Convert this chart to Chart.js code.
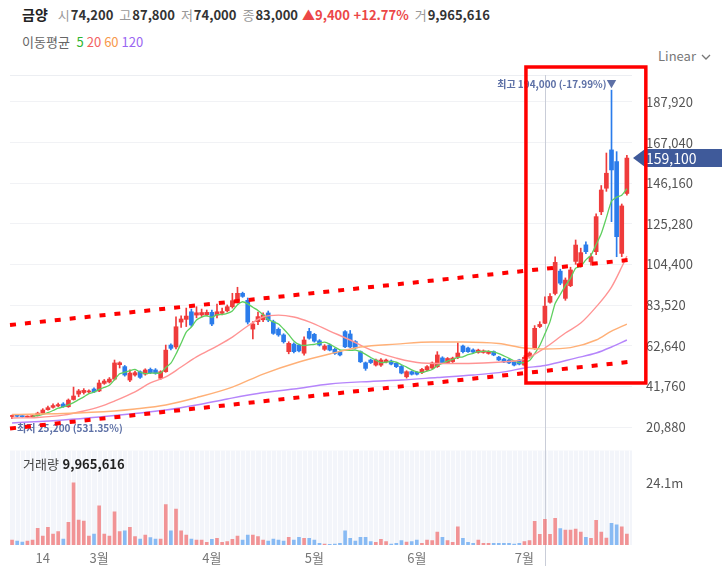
<!DOCTYPE html>
<html lang="ko">
<head>
<meta charset="utf-8">
<title>금양 일봉</title>
<script src="https://cdn.jsdelivr.net/npm/chart.js@4.4.1/dist/chart.umd.min.js"></script>
<style>
  html, body { margin: 0; padding: 0; background: #fff; }
  body { width: 722px; height: 566px; position: relative; overflow: hidden;
         font-family: 'Noto Sans CJK KR', 'Noto Sans', sans-serif; }
  canvas { position: absolute; left: 0; }
  #priceChart { top: 62px; }
  #volumeChart { top: 444px; }
  .quote { position: absolute; left: 22px; top: 5px; font-size: 13px; line-height: 18px; white-space: nowrap; color: #333; }
  .quote .name { font-weight: bold; font-size: 14px; color: #222; margin-right: 10px; }
  .quote .k { color: #999; margin-right: 1px; }
  .quote .v { font-weight: bold; margin-right: 6px; }
  .quote .up { color: #ec4747; font-weight: bold; margin-left: -2px; margin-right: 6px; }
  .ma { position: absolute; left: 22px; top: 33px; font-size: 13px; line-height: 18px; color: #666; white-space: nowrap; }
  .ma span { margin-left: 3px; }
  .scale { position: absolute; left: 658px; top: 47px; font-size: 13px; line-height: 18px; color: #777; }
  .scale svg { margin-left: 5px; vertical-align: middle; }
  .vol { position: absolute; left: 23px; top: 455px; font-size: 13px; line-height: 18px; color: #444; white-space: nowrap; }
  .vol b { color: #222; }
</style>
</head>
<body>
<div class="quote"><span class="name">금양</span><span class="k">시</span><span class="v">74,200</span><span class="k">고</span><span class="v">87,800</span><span class="k">저</span><span class="v">74,000</span><span class="k">종</span><span class="v">83,000</span><span class="up">▲9,400 +12.77%</span><span class="k">거</span><span class="v">9,965,616</span></div>
<div class="ma">이동평균 <span style="color:#2fb52f">5</span><span style="color:#f36262">20</span><span style="color:#f7984a">60</span><span style="color:#9a66f2">120</span></div>
<div class="scale">Linear<svg width="10" height="7" viewBox="0 0 10 7"><polyline points="1,1 5,5 9,1" fill="none" stroke="#777" stroke-width="1.3"/></svg></div>
<canvas id="priceChart" width="722" height="393"></canvas>
<canvas id="volumeChart" width="722" height="122"></canvas>
<div class="vol">거래량 <b>9,965,616</b></div>

<script>
// 거래일 (2023년 2월 6일 ~ 7월 31일)
const tradingDays = {
    2: [6,7,8,9,10,13,14,15,16,17,20,21,22,23,24,27,28],
    3: [2,3,6,7,8,9,10,13,14,15,16,17,20,21,22,23,24,27,28,29,30,31],
    4: [3,4,5,6,7,10,11,12,13,14,17,18,19,20,21,24,25,26,27,28],
    5: [2,3,4,8,9,10,11,12,15,16,17,18,19,22,23,24,25,26,30,31],
    6: [1,2,5,7,8,9,12,13,14,15,16,19,20,21,22,23,26,27,28,29,30],
    7: [3,4,5,6,7,10,11,12,13,14,17,18,19,20,21,24,25,26,27,28,31]
};

// x축 표시 날짜
const tickDates = ['2-14', '3-2', '4-3', '5-2', '6-1', '7-3'];
const tickLabels = ['14', '3월', '4월', '5월', '6월', '7월'];
const hoverDate = '7-7';

// 가격 축 눈금
const priceTicks = [20880, 41760, 62640, 83520, 104400, 125280, 146160, 167040, 187920];
const volumeTicks = [24100000];

// 시가 / 고가 / 저가 / 종가
const opens = [
    26300,26700,26400,26000,26200,26800,28000,29800,31000,31700,
    32700,31300,35000,37800,38600,38900,40400,39400,43300,44000,
    45500,52900,51900,45000,47600,49300,48100,50500,50200,45900,
    49300,63000,62000,74800,76200,80100,78400,78500,78600,79800,
    78400,79300,80600,82700,85800,89600,86000,71200,75000,76000,
    79500,75000,71100,68200,59600,63500,63000,58800,70000,68500,
    65200,60800,63000,60800,59600,69900,68700,64800,59600,53900,
    55300,52700,52700,54300,54800,53600,52000,46700,49300,49000,
    48800,50200,51200,51900,56400,54000,54500,56700,62500,61500,
    60500,59200,59200,58700,59600,56800,55800,55300,54400,55300,
    52700,57000,61300,72500,74200,85000,89500,101000,87000,93500,
    106000,105000,114500,105800,111000,131500,143600,163300,157300,110100,
    140900
];
const highs = [
    27000,27000,26700,26600,26900,28500,30300,31600,32800,33200,
    33400,35300,41400,40200,40600,40000,41000,45000,45300,46300,
    55300,54400,52500,50200,49600,49800,50800,51200,50900,49800,
    63000,63600,77500,78000,82000,81500,82700,81500,81000,81000,
    84000,82000,83600,89600,92700,90200,87200,75000,80000,79500,
    80500,75800,71800,68800,64700,64200,63500,67200,71600,69000,
    65800,63200,63500,61300,60000,70400,70500,65300,60000,54300,
    55800,55800,56000,55800,55300,54000,52500,49800,49700,49400,
    51000,52400,54300,59600,57000,56600,56800,64200,63000,62000,
    61000,60900,60500,60100,60000,57200,56200,55700,54800,55700,
    57500,59500,73000,75000,87800,89500,108400,102000,97500,103000,
    117000,112800,116000,110000,130500,145000,161700,194000,162400,135500,
    160500
];
const lows = [
    25200,26000,25900,25800,26000,26500,27800,29500,30600,31300,
    31000,31000,34700,36500,37800,38400,38500,39000,42800,43500,
    45000,51200,47000,44200,47000,45800,47500,48300,48000,45300,
    49000,60500,61000,72000,72500,72500,77000,77500,78000,73000,
    77000,78500,80000,82000,84500,87500,73800,66100,73500,75000,
    75000,68500,67500,64000,58500,59000,59500,57800,66000,64500,
    62500,60200,60000,58200,57400,61600,61500,61000,54000,50000,
    53500,52200,52000,53800,52800,51400,48200,46000,47600,47600,
    48300,49800,50800,51500,53500,53600,54000,56000,59000,59200,
    59000,58800,58800,58300,57500,55000,54000,53400,52300,52800,
    52200,56300,60800,71900,74000,84500,88800,94000,86000,93000,
    104500,103000,110000,104000,109500,130000,142000,126400,108400,108400,
    140000
];
const closes = [
    26600,26400,26200,26300,26500,28000,29600,30800,31900,32400,
    31300,34700,36800,39400,39700,39400,38900,43500,44500,45500,
    53800,53900,47600,48600,48800,46400,50200,48800,48500,49300,
    60400,61300,72400,76400,77900,73300,79600,79700,79800,73800,
    80100,80200,82700,85800,89600,88000,74800,73800,77600,78500,
    75900,69000,68200,64700,63900,59600,60000,65600,66500,65000,
    63000,62500,60400,58700,57900,62100,62000,61500,54400,51000,
    54000,55300,55300,55300,53200,51900,48600,49300,48000,48000,
    50500,51900,53800,57900,54000,56100,56300,58900,59600,59600,
    59400,60400,60000,59600,57900,55300,54300,53800,52700,53200,
    56700,58900,71600,73600,83000,88000,105500,94800,96400,101600,
    114400,110500,111000,108400,129000,142700,151300,153000,118700,134500,
    159100
];

// 거래량
const volumes = [
    1930000,1550000,1160000,1550000,1930000,6450000,3480000,6830000,4250000,5160000,
    2320000,8770000,24100000,9670000,9280000,3480000,4250000,15200000,4250000,3480000,
    12900000,5160000,5540000,6830000,3220000,2320000,3870000,2840000,2320000,2320000,
    15700000,5540000,13900000,5540000,3870000,2320000,1930000,1930000,1030000,2190000,
    2580000,1030000,1290000,2190000,3480000,1930000,3870000,3870000,3220000,1930000,
    1550000,2320000,1930000,1550000,2960000,1930000,2960000,2580000,2580000,1930000,
    640000,390000,260000,390000,640000,5540000,2580000,1550000,2960000,2960000,
    1290000,1030000,2190000,1290000,390000,640000,1680000,1160000,1290000,1930000,
    640000,1930000,1680000,5030000,2960000,1680000,1030000,7090000,2580000,1030000,
    640000,1930000,640000,640000,640000,640000,640000,640000,390000,640000,
    1290000,1680000,9150000,4120000,9965616,4120000,10300000,6320000,5800000,5800000,
    6190000,5030000,2960000,2580000,9540000,5030000,2710000,8380000,7860000,7090000,
    4250000
];

// 이동평균선 (그림에서 읽은 값: 거래일 순번, 가격)
const ma20Idx = [0,5,10,14,17,20,24,27,30,33,36,40,43,46,49,52,55,58,62,66,70,75,80,86,92,98,100,104,108,111,114,117,119,120];
const ma20Val = [25500,25800,27000,29100,31200,34200,38900,43500,46600,51700,56900,62500,67100,72800,77400,78400,77400,74900,70200,65600,60500,56300,53800,53500,53800,54800,55600,61500,69200,74300,82600,92800,103100,108800];
const ma60Idx = [0,10,20,24,30,36,43,49,56,62,68,75,82,88,95,100,104,109,114,117,120];
const ma60Val = [27300,27800,29100,30100,32200,36000,41400,48100,54300,58400,62000,63500,64600,64600,63800,61500,61000,61700,65600,70200,73800];
const ma120Idx = [0,10,17,24,30,36,42,48,55,62,70,76,83,90,96,100,104,110,114,117,120];
const ma120Val = [22900,24500,26000,27800,29600,32200,35300,38100,40400,43000,44300,45000,46300,47600,49200,51200,52500,56300,58900,62000,65600];

// 손으로 그린 표시 (추세선, 박스) - 거래일 순번 / 가격 좌표
const upperTrend = [{ x: -0.4, y: 73300 }, { x: 120.2, y: 106700 }];
const lowerTrend = [{ x: -0.4, y: 20100 }, { x: 120.6, y: 54400 }];
const markBox = [
    { x: 100.3, y: 205900 }, { x: 123.7, y: 205900 },
    { x: 123.7, y: 43500 }, { x: 100.3, y: 43500 }, { x: 100.3, y: 205900 }
];

const FONT = "'Noto Sans CJK KR', 'Noto Sans', sans-serif";
const UP = '#ef3b3b';
const DOWN = '#2b7ceb';

const dates = [];
Object.keys(tradingDays).forEach(m => tradingDays[m].forEach(d => dates.push(m + '-' + d)));
const tickIdx = tickDates.map(d => dates.indexOf(d));
const hoverIdx = dates.indexOf(hoverDate);
const idx = closes.map((c, i) => i);
const candleColors = idx.map(i => closes[i] >= opens[i] ? UP : DOWN);
const volumeColors = idx.map(i => closes[i] >= opens[i] ? 'rgba(240, 110, 110, 0.72)' : 'rgba(100, 165, 240, 0.75)');

function movingAverage(values, n) {
    return values.map((v, i) => {
        if (i < n - 1) return null;
        let sum = 0;
        for (let k = i - n + 1; k <= i; k++) sum += values[k];
        return sum / n;
    });
}
const ma5 = movingAverage(closes, 5);

function points(xs, ys) {
    return xs.map((x, k) => ({ x: x, y: ys[k] }));
}

const xRange = { min: -0.4, max: 121 };
// 라벨은 축 바깥쪽으로 14px 띄움 (ticks.padding 대신 투명 눈금선 길이 사용)
const axisGap = { drawTicks: true, tickLength: 14, tickColor: 'rgba(0,0,0,0)' };
let labelsDrawn = false;

const priceOverlay = {
    id: 'priceOverlay',
    beforeDraw(chart) {
        labelsDrawn = false;
    },
    beforeDatasetsDraw(chart) {
        const ctx = chart.ctx;
        const area = chart.chartArea;
        const xs = chart.scales.x;
        const ys = chart.scales.y;
        ctx.save();
        // 상단 경계선
        ctx.strokeStyle = '#eceef2';
        ctx.lineWidth = 1;
        ctx.beginPath();
        ctx.moveTo(area.left, Math.round(area.top) + 0.5);
        ctx.lineTo(area.right, Math.round(area.top) + 0.5);
        ctx.stroke();
        // 십자선
        const hx = Math.round(xs.getPixelForValue(hoverIdx)) + 0.5;
        ctx.strokeStyle = '#c9cdd8';
        ctx.beginPath();
        ctx.moveTo(hx, area.top);
        ctx.lineTo(hx, chart.height);
        ctx.stroke();
        // 현재가 태그
        const last = closes[closes.length - 1];
        const yc = ys.getPixelForValue(last);
        ctx.fillStyle = '#3f5a9a';
        ctx.beginPath();
        ctx.moveTo(area.right + 1, yc);
        ctx.lineTo(area.right + 13, yc - 9);
        ctx.lineTo(chart.width, yc - 9);
        ctx.lineTo(chart.width, yc + 9);
        ctx.lineTo(area.right + 13, yc + 9);
        ctx.closePath();
        ctx.fill();
        ctx.fillStyle = '#fff';
        ctx.font = '14px ' + FONT;
        ctx.textBaseline = 'middle';
        ctx.textAlign = 'left';
        ctx.fillText(last.toLocaleString('en-US'), area.right + 14, yc + 1);
        ctx.restore();
    },
    beforeDatasetDraw(chart, args) {
        if (labelsDrawn || !chart.data.datasets[args.index].marker) return;
        labelsDrawn = true;
        const ctx = chart.ctx;
        const xs = chart.scales.x;
        const ys = chart.scales.y;
        const last = closes[closes.length - 1];
        let hi = 0, lo = 0;
        highs.forEach((v, i) => { if (v > highs[hi]) hi = i; });
        lows.forEach((v, i) => { if (v < lows[lo]) lo = i; });
        ctx.save();
        ctx.fillStyle = '#5d70a6';
        ctx.font = 'bold 10px ' + FONT;
        ctx.textBaseline = 'middle';
        const hiPct = ((last - highs[hi]) / highs[hi] * 100).toFixed(2);
        ctx.textAlign = 'right';
        ctx.fillText('최고 ' + highs[hi].toLocaleString('en-US') + ' (' + hiPct + '%)▼',
            xs.getPixelForValue(hi) + 5, ys.getPixelForValue(highs[hi]) - 6);
        const loPct = ((last - lows[lo]) / lows[lo] * 100).toFixed(2);
        ctx.textAlign = 'left';
        ctx.fillText('최저 ' + lows[lo].toLocaleString('en-US') + ' (' + loPct + '%)',
            xs.getPixelForValue(lo) + 5, ys.getPixelForValue(lows[lo]) + 10);
        ctx.restore();
    }
};

new Chart(document.getElementById('priceChart'), {
    type: 'bar',
    data: {
        datasets: [
            {
                label: '120',
                type: 'line',
                data: points(ma120Idx, ma120Val),
                borderColor: '#b585fb',
                borderWidth: 1.4,
                pointRadius: 0,
                cubicInterpolationMode: 'monotone',
                order: 3
            },
            {
                label: '60',
                type: 'line',
                data: points(ma60Idx, ma60Val),
                borderColor: '#ffb077',
                borderWidth: 1.4,
                pointRadius: 0,
                cubicInterpolationMode: 'monotone',
                order: 3
            },
            {
                label: '20',
                type: 'line',
                data: points(ma20Idx, ma20Val),
                borderColor: '#ff9494',
                borderWidth: 1.4,
                pointRadius: 0,
                cubicInterpolationMode: 'monotone',
                order: 3
            },
            {
                label: '5',
                type: 'line',
                data: points(idx, ma5),
                borderColor: '#5fcf5f',
                borderWidth: 1.3,
                pointRadius: 0,
                tension: 0.2,
                order: 3
            },
            {
                label: 'wick',
                data: idx.map(i => ({ x: i, y: [lows[i], highs[i]] })),
                backgroundColor: candleColors,
                barThickness: 1,
                grouped: false,
                order: 5
            },
            {
                label: 'body',
                data: idx.map(i => ({ x: i, y: [opens[i], closes[i]] })),
                backgroundColor: candleColors,
                barThickness: 4,
                minBarLength: 1,
                grouped: false,
                order: 4
            },
            {
                label: 'upper',
                type: 'line',
                marker: true,
                data: upperTrend,
                borderColor: '#ff0000',
                borderWidth: 4,
                borderDash: [6, 9],
                pointRadius: 0,
                clip: false,
                order: 1
            },
            {
                label: 'lower',
                type: 'line',
                marker: true,
                data: lowerTrend,
                borderColor: '#ff0000',
                borderWidth: 4,
                borderDash: [6, 9],
                pointRadius: 0,
                clip: false,
                order: 1
            },
            {
                label: 'box',
                type: 'line',
                marker: true,
                data: markBox,
                borderColor: '#ff0000',
                borderWidth: 3.5,
                borderCapStyle: 'square',
                borderJoinStyle: 'miter',
                pointRadius: 0,
                tension: 0,
                clip: false,
                order: 0
            }
        ]
    },
    options: {
        responsive: false,
        animation: false,
        events: [],
        layout: { padding: { left: 10, top: 13, right: 0, bottom: 7 } },
        plugins: { legend: { display: false }, tooltip: { enabled: false } },
        scales: {
            x: {
                type: 'linear',
                min: xRange.min,
                max: xRange.max,
                offset: false,
                display: false
            },
            y: {
                type: 'linear',
                position: 'right',
                min: 10087,
                max: 201797,
                afterFit: axis => { axis.width = 90; },
                afterBuildTicks: axis => { axis.ticks = priceTicks.map(v => ({ value: v })); },
                grid: Object.assign({ color: '#f1f2f5' }, axisGap),
                border: { display: false },
                ticks: {
                    padding: 0,
                    color: '#555',
                    font: { family: FONT, size: 13, lineHeight: 1 },
                    callback: v => v.toLocaleString('en-US')
                }
            }
        }
    },
    plugins: [priceOverlay]
});

const volumeOverlay = {
    id: 'volumeOverlay',
    beforeDatasetsDraw(chart) {
        const ctx = chart.ctx;
        const area = chart.chartArea;
        const xs = chart.scales.x;
        ctx.save();
        ctx.fillStyle = '#f3f5fa';
        ctx.fillRect(area.left, area.top, area.right - area.left, area.bottom - area.top);
        ctx.strokeStyle = 'rgba(255, 255, 255, 0.8)';
        ctx.lineWidth = 1;
        idx.forEach(i => {
            const px = Math.round(xs.getPixelForValue(i + 0.5)) + 0.5;
            ctx.beginPath();
            ctx.moveTo(px, area.top);
            ctx.lineTo(px, area.bottom);
            ctx.stroke();
        });
        const hx = Math.round(xs.getPixelForValue(hoverIdx)) + 0.5;
        ctx.strokeStyle = '#c9cdd8';
        ctx.beginPath();
        ctx.moveTo(hx, 0);
        ctx.lineTo(hx, chart.height);
        ctx.stroke();
        ctx.restore();
    }
};

new Chart(document.getElementById('volumeChart'), {
    type: 'bar',
    data: {
        datasets: [{
            label: '거래량',
            data: idx.map(i => ({ x: i, y: volumes[i] })),
            backgroundColor: volumeColors,
            barThickness: 3
        }]
    },
    options: {
        responsive: false,
        animation: false,
        events: [],
        layout: { padding: { left: 10, top: 6, right: 0, bottom: 0 } },
        plugins: { legend: { display: false }, tooltip: { enabled: false } },
        scales: {
            x: {
                type: 'linear',
                min: xRange.min,
                max: xRange.max,
                offset: false,
                afterFit: axis => { axis.height = 21; },
                afterBuildTicks: axis => { axis.ticks = tickIdx.map(v => ({ value: v })); },
                grid: { display: false, drawTicks: false },
                border: { display: false },
                ticks: {
                    padding: 5,
                    maxRotation: 0,
                    autoSkip: false,
                    color: '#777',
                    font: { family: FONT, size: 13 },
                    callback: (v, k) => tickLabels[k]
                }
            },
            y: {
                type: 'linear',
                position: 'right',
                min: 0,
                max: 36630000,
                afterFit: axis => { axis.width = 90; },
                afterBuildTicks: axis => { axis.ticks = volumeTicks.map(v => ({ value: v })); },
                grid: Object.assign({ display: true, drawOnChartArea: false }, axisGap),
                border: { display: false },
                ticks: {
                    padding: 0,
                    color: '#555',
                    font: { family: FONT, size: 13, lineHeight: 1 },
                    callback: v => (v / 1000000).toFixed(1) + 'm'
                }
            }
        }
    },
    plugins: [volumeOverlay]
});
</script>
</body>
</html>
